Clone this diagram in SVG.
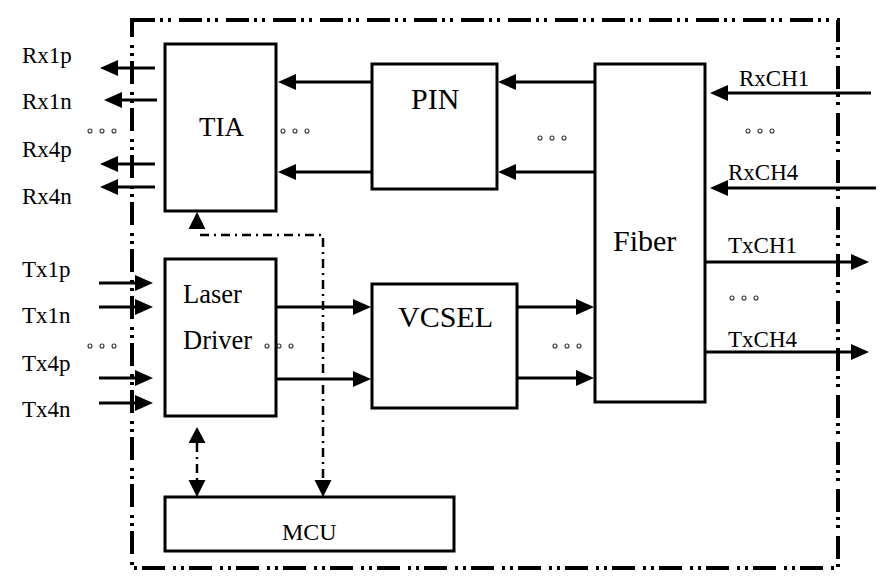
<svg xmlns="http://www.w3.org/2000/svg" width="893" height="583" viewBox="0 0 893 583">
<style>
.box{fill:#fff;stroke:#000;stroke-width:3}
text{font-family:'Liberation Serif','DejaVu Serif',serif;fill:#000}
.ln{stroke:#000;stroke-width:3;fill:none;marker-end:url(#ah)}
.dd{stroke:#000;stroke-width:2.5;fill:none;stroke-dasharray:9 5 2 5}
.dot{fill:none;stroke:#333;stroke-width:1.1}
</style>
<defs>
<marker id="ah" markerUnits="userSpaceOnUse" markerWidth="18" markerHeight="16" refX="4" refY="8" orient="auto">
<path d="M0,0 L18,8 L0,16 z" fill="#000"/>
</marker>
</defs>
<rect x="132" y="20" width="706" height="548" fill="none" stroke="#000" stroke-width="4" stroke-dasharray="23 5 3 5 3 8"/>

<g id="connectors">
<line class="ln" x1="155" y1="68" x2="114" y2="68"/>
<line class="ln" x1="157" y1="100" x2="118" y2="100"/>
<line class="ln" x1="155" y1="164" x2="114" y2="164"/>
<line class="ln" x1="155" y1="187" x2="114" y2="187"/>
<line class="ln" x1="99" y1="283" x2="139" y2="283"/>
<line class="ln" x1="99" y1="307" x2="139" y2="307"/>
<line class="ln" x1="99" y1="378" x2="139" y2="378"/>
<line class="ln" x1="99" y1="403" x2="139" y2="403"/>
<line class="ln" x1="372" y1="82" x2="292" y2="82"/>
<line class="ln" x1="372" y1="172" x2="292" y2="172"/>
<line class="ln" x1="595" y1="82" x2="512" y2="82"/>
<line class="ln" x1="595" y1="172" x2="512" y2="172"/>
<line class="ln" x1="871" y1="93" x2="724" y2="93"/>
<line class="ln" x1="876" y1="188" x2="724" y2="188"/>
<line class="ln" x1="706" y1="262" x2="855" y2="262"/>
<line class="ln" x1="706" y1="352" x2="855" y2="352"/>
<line class="ln" x1="277" y1="307" x2="357" y2="307"/>
<line class="ln" x1="277" y1="379" x2="357" y2="379"/>
<line class="ln" x1="517" y1="307" x2="580" y2="307"/>
<line class="ln" x1="517" y1="378" x2="580" y2="378"/>
<path class="dd" d="M200,235 L323,235 L323,482"/>
<path d="M197,212 L205.5,229 L188.5,229 z" fill="#000"/>
<path d="M323,497 L331.5,480 L314.5,480 z" fill="#000"/>
<path class="dd" d="M197,443 L197,480"/>
<path d="M197,427 L205.5,443 L188.5,443 z" fill="#000"/>
<path d="M197,497 L205.5,480 L188.5,480 z" fill="#000"/>
</g>

<g id="tia"><rect class="box" x="165" y="44" width="111" height="167"/><text x="199" y="136" font-size="27" font-family="Liberation Serif, serif">TIA</text></g>
<g id="pin"><rect class="box" x="372" y="64" width="125" height="125"/><text x="411" y="109" font-size="30" font-family="Liberation Serif, serif">PIN</text></g>
<g id="fiber"><rect class="box" x="595" y="64" width="110" height="338"/><text x="613" y="251" font-size="30" font-family="Liberation Serif, serif">Fiber</text></g>
<g id="laser-driver"><rect class="box" x="165" y="259" width="111" height="157"/><text x="183" y="303" font-size="26.5" font-family="Liberation Serif, serif">Laser</text><text x="183" y="349" font-size="26.5" font-family="Liberation Serif, serif">Driver</text></g>
<g id="vcsel"><rect class="box" x="372" y="284" width="145" height="124"/><text x="398" y="327" font-size="30" font-family="Liberation Serif, serif">VCSEL</text></g>
<g id="mcu"><rect class="box" x="165" y="497" width="289" height="54"/><text x="282" y="540" font-size="24" font-family="Liberation Serif, serif">MCU</text></g>

<g id="labels" font-size="23" font-family="Liberation Serif, serif">
<text x="22" y="63">Rx1p</text>
<text x="22" y="109">Rx1n</text>
<text x="22" y="157">Rx4p</text>
<text x="22" y="204">Rx4n</text>
<text x="22" y="277">Tx1p</text>
<text x="22" y="323">Tx1n</text>
<text x="22" y="371">Tx4p</text>
<text x="22" y="417">Tx4n</text>
<text x="739" y="86">RxCH1</text>
<text x="728" y="180">RxCH4</text>
<text x="728" y="253">TxCH1</text>
<text x="728" y="347">TxCH4</text>
</g>

<g id="ellipses" class="dot">
<circle cx="90" cy="131" r="2"/><circle cx="102" cy="131" r="2"/><circle cx="114" cy="131" r="2"/>
<circle cx="283" cy="131" r="2"/><circle cx="295" cy="131" r="2"/><circle cx="307" cy="131" r="2"/>
<circle cx="540" cy="138" r="2"/><circle cx="552" cy="138" r="2"/><circle cx="564" cy="138" r="2"/>
<circle cx="748" cy="131" r="2"/><circle cx="760" cy="131" r="2"/><circle cx="772" cy="131" r="2"/>
<circle cx="90" cy="346" r="2"/><circle cx="102" cy="346" r="2"/><circle cx="114" cy="346" r="2"/>
<circle cx="267" cy="346" r="2"/><circle cx="279" cy="346" r="2"/><circle cx="291" cy="346" r="2"/>
<circle cx="555" cy="346" r="2"/><circle cx="567" cy="346" r="2"/><circle cx="579" cy="346" r="2"/>
<circle cx="732" cy="298" r="2"/><circle cx="744" cy="298" r="2"/><circle cx="756" cy="298" r="2"/>
</g>
</svg>
